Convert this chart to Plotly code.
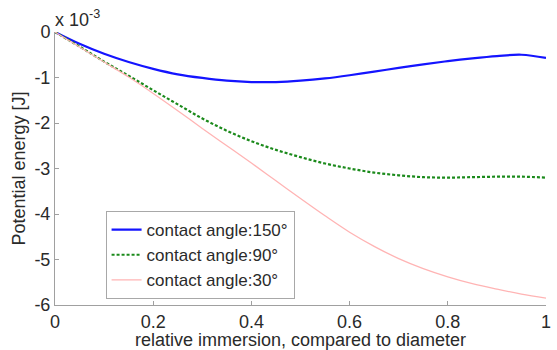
import plotly.graph_objects as go

x_vals = [0, 0.05, 0.1, 0.15, 0.2, 0.25, 0.3, 0.35, 0.4, 0.45, 0.5,
          0.55, 0.6, 0.65, 0.7, 0.75, 0.8, 0.85, 0.9, 0.95, 1.0]
angle150 = [0, -0.26, -0.48, -0.66, -0.81, -0.93, -1.01, -1.07, -1.10, -1.10, -1.07,
            -1.02, -0.95, -0.87, -0.79, -0.71, -0.64, -0.58, -0.53, -0.50, -0.57]
angle90 = [0, -0.32, -0.65, -0.96, -1.28, -1.59, -1.90, -2.17, -2.40, -2.59, -2.75,
           -2.89, -3.00, -3.09, -3.15, -3.19, -3.20, -3.19, -3.18, -3.18, -3.20]
angle30 = [0, -0.33, -0.66, -0.99, -1.35, -1.73, -2.12, -2.50, -2.88, -3.27, -3.66,
           -4.04, -4.40, -4.71, -4.98, -5.20, -5.38, -5.53, -5.65, -5.76, -5.85]
names = ["contact angle:150°", "contact angle:90°", "contact angle:30°"]
x_ticks = [0, 0.2, 0.4, 0.6, 0.8, 1]
x_labels = ["0", "0.2", "0.4", "0.6", "0.8", "1"]
y_ticks = [0, -1, -2, -3, -4, -5, -6]
y_labels = ["0", "-1", "-2", "-3", "-4", "-5", "-6"]

FONT = "Liberation Sans, Arial, sans-serif"
TXT = "#2a2a2a"
FS = 18

fig = go.Figure()
fig.add_trace(go.Scatter(x=x_vals, y=angle150, mode="lines", name=names[0],
                         line=dict(color="#1414ff", width=2.2, shape="spline", smoothing=1.0)))
fig.add_trace(go.Scatter(x=x_vals, y=angle90, mode="lines", name=names[1],
                         line=dict(color="#1b8a1b", width=2.2, dash="3px,2px", shape="spline", smoothing=1.0)))
fig.add_trace(go.Scatter(x=x_vals, y=angle30, mode="lines", name=names[2],
                         line=dict(color="#ffb4b4", width=1.3, shape="spline", smoothing=1.0)))

fig.update_layout(
    width=557, height=350,
    margin=dict(l=55, r=6, t=32, b=42),
    paper_bgcolor="white", plot_bgcolor="white",
    font=dict(family=FONT, size=FS, color=TXT),
    showlegend=True,
    legend=dict(x=0.103, y=0.344, xanchor="left", yanchor="top",
                bgcolor="white", bordercolor="#a8a8a8", borderwidth=1,
                font=dict(family=FONT, size=17, color=TXT),
                itemwidth=30, tracegroupgap=0),
    xaxis=dict(range=[0, 1], tickvals=x_ticks, ticktext=x_labels,
               showgrid=False, zeroline=False, showline=True, linecolor="#a0a0a0", linewidth=1,
               ticks="inside", ticklen=4, tickcolor="#a0a0a0",
               tickfont=dict(size=FS, color=TXT),
               title=dict(text="relative immersion, compared to diameter",
                          font=dict(size=FS, color=TXT), standoff=0)),
    yaxis=dict(range=[-6, 0], tickvals=y_ticks, ticktext=y_labels,
               showgrid=False, zeroline=False, showline=True, linecolor="#a0a0a0", linewidth=1,
               ticks="inside", ticklen=4, tickcolor="#a0a0a0",
               tickfont=dict(size=FS, color=TXT),
               title=dict(text="Potential energy [J]", font=dict(size=FS, color=TXT), standoff=4)),
    annotations=[dict(text="x 10<sup>-3</sup>", x=0, y=1, xref="paper", yref="paper",
                      xanchor="left", yanchor="bottom", xshift=-2, yshift=0, showarrow=False,
                      font=dict(size=FS, color=TXT))],
)

fig.write_html("out.html")
